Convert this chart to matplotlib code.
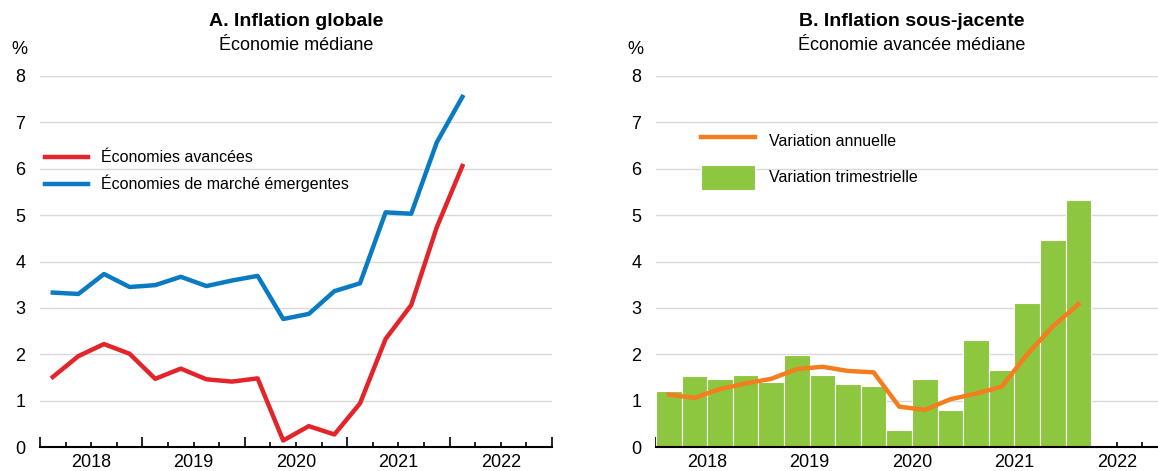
import matplotlib
matplotlib.use("Agg")
import matplotlib.pyplot as plt
import numpy as np
from matplotlib.ticker import FixedLocator, FuncFormatter

plt.rcParams['font.family'] = ['Liberation Sans', 'DejaVu Sans']

# Quarterly data, 2018Q1 .. 2022Q1 as positioned in the chart
quarters = np.arange(17)

# Panel A: headline inflation, median economy (%)
avancees = [1.51, 1.96, 2.22, 2.01, 1.47, 1.69, 1.46, 1.41, 1.48, 0.14,
            0.45, 0.27, 0.94, 2.33, 3.06, 4.74, 6.06]
emergentes = [3.33, 3.30, 3.73, 3.45, 3.49, 3.67, 3.47, 3.59, 3.69, 2.76,
              2.87, 3.36, 3.53, 5.06, 5.03, 6.57, 7.55]

# Panel B: core inflation, median advanced economy (%)
trimestrielle = [1.20, 1.53, 1.47, 1.55, 1.40, 1.99, 1.55, 1.35, 1.32, 0.37,
                 1.47, 0.80, 2.31, 1.65, 3.10, 4.46, 5.32]
annuelle = [1.13, 1.06, 1.25, 1.37, 1.47, 1.68, 1.73, 1.64, 1.61, 0.87,
            0.80, 1.03, 1.15, 1.30, 2.00, 2.60, 3.08]

years = [2018, 2019, 2020, 2021, 2022]

RED = '#e3242b'
BLUE = '#0a7bc2'
ORANGE = '#f47d20'
GREEN = '#8dc63f'
GRID = '#d9d9d9'

W, H = 1158, 471
fig = plt.figure(figsize=(W / 100, H / 100), dpi=100)


def px_axes(x0, x1, y_top, y_bot):
    return fig.add_axes([x0 / W, 1 - y_bot / H, (x1 - x0) / W, (y_bot - y_top) / H])


def style(ax):
    xq = 2018 + (quarters + 0.5) / 4
    ax.set_xlim(2018, 2023)
    ax.set_ylim(0, 8)
    ax.set_yticks(range(0, 9))
    for v in range(1, 9):
        ax.axhline(v, color=GRID, lw=1, zorder=0)
    for s in ['left', 'right', 'top']:
        ax.spines[s].set_visible(False)
    ax.spines['bottom'].set_linewidth(1.5)
    ax.spines['bottom'].set_zorder(5)
    ax.xaxis.set_major_locator(FixedLocator(range(2018, 2024)))
    ax.xaxis.set_major_formatter(FuncFormatter(lambda v, p: ''))
    minor = [y + q / 4 for y in range(2018, 2023) for q in (1, 2, 3)]
    ax.xaxis.set_minor_locator(FixedLocator(minor))
    ax.xaxis.set_minor_formatter(
        FuncFormatter(lambda v, p: str(int(v)) if abs(v % 1 - 0.5) < 1e-6 else ''))
    ax.tick_params(axis='x', which='major', direction='in', length=7, width=1.2)
    ax.tick_params(axis='x', which='minor', direction='in', length=3.5, width=1.2,
                   labelsize=13, pad=5)
    ax.tick_params(axis='y', length=0, labelsize=13, pad=14)
    for lab in ax.get_yticklabels():
        lab.set_horizontalalignment('center')
    return xq


def px_text(x, y, s, **kw):
    fig.text(x / W, 1 - y / H, s, ha='center', va='center', **kw)


# Panel A
axA = px_axes(40, 552, 76, 447)
xq = style(axA)
axA.plot(xq, avancees, color=RED, lw=3.2, label='Économies avancées', zorder=3)
axA.plot(xq, emergentes, color=BLUE, lw=3.2, label='Économies de marché émergentes', zorder=3)
axA.legend(loc='upper left', bbox_to_anchor=(-0.003, 0.817), frameon=False, fontsize=11.5,
           handlelength=2.7, handletextpad=0.8, labelspacing=0.6, borderaxespad=0)
px_text(296, 21, 'A. Inflation globale', fontsize=14, fontweight='bold')
px_text(296, 45, 'Économie médiane', fontsize=13)
px_text(19, 50, '%', fontsize=13)

# Panel B
axB = px_axes(656, 1168, 76, 447)
xq = style(axB)
axB.bar(xq, trimestrielle, width=0.25, color=GREEN, edgecolor='white', linewidth=0.8,
        label='Variation trimestrielle', zorder=2)
axB.plot(xq, annuelle, color=ORANGE, lw=3.2, label='Variation annuelle', zorder=3)
axB.legend(loc='upper left', bbox_to_anchor=(0.075, 0.878), frameon=False, fontsize=11.5,
           handlelength=3.4, handleheight=2.1, handletextpad=0.85, labelspacing=0.7,
           borderaxespad=0)
px_text(912, 21, 'B. Inflation sous-jacente', fontsize=14, fontweight='bold')
px_text(912, 45, 'Économie avancée médiane', fontsize=13)
px_text(635, 50, '%', fontsize=13)

fig.savefig('out.png', dpi=100)
